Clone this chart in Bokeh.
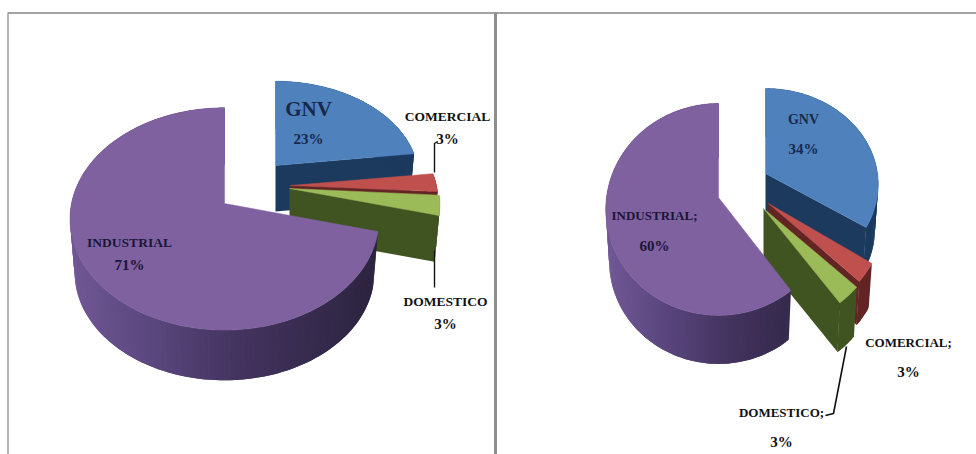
import math
from bokeh.core.properties import value
from bokeh.embed import file_html
from bokeh.models import Range1d
from bokeh.plotting import figure
from bokeh.resources import INLINE

# Share of gas consumption per sector, in percent, for each of the two pies
sectors = ["GNV", "COMERCIAL", "DOMESTICO", "INDUSTRIAL"]
left_values = [23, 3, 3, 71]
right_values = [34, 3, 3, 60]

TOP = {"GNV": "#4f81bd", "COMERCIAL": "#c0504d", "DOMESTICO": "#9bbb59", "INDUSTRIAL": "#7f619f"}
SIDE = {"GNV": "#1b3a5e", "COMERCIAL": "#632523", "DOMESTICO": "#3f5420"}
GRAD = [(0.0, (112, 88, 148)), (0.25, (92, 72, 128)), (0.55, (68, 52, 96)), (1.0, (44, 36, 64))]

# Projected placement of each exploded slice: apex, radii, extrusion depth
LEFT_GEOM = {
    "k": 0.139,
    "GNV": dict(ax=275, ay=165, rx=142, r=96, d=46),
    "COMERCIAL": dict(ax=290, ay=185, rx=146, r=96, d=46),
    "DOMESTICO": dict(ax=289, ay=188, rx=149, r=105, d=47),
    "INDUSTRIAL": dict(ax=224, ay=203, rx=153, r=109, d=54),
}
RIGHT_GEOM = {
    "k": 0.113,
    "GNV": dict(ax=765, ay=173, rx=112, r=94.6, d=46),
    "COMERCIAL": dict(ax=768, ay=203, rx=115, r=105, d=46),
    "DOMESTICO": dict(ax=763, ay=208, rx=118, r=106, d=52),
    "INDUSTRIAL": dict(ax=718, ay=197, rx=112, r=104.6, d=52),
}


def project(g, k, theta, depth=0.0, shrink=1.0):
    w = 1 + k * math.cos(theta)
    x = g["ax"] + shrink * g["rx"] * math.sin(theta) / w
    y = g["ay"] + depth - shrink * g["r"] * math.cos(theta) / w
    return x, y


def shade(f):
    for (f0, c0), (f1, c1) in zip(GRAD, GRAD[1:]):
        if f <= f1:
            t = (f - f0) / (f1 - f0)
            return "#%02x%02x%02x" % tuple(round(a + (b - a) * t) for a, b in zip(c0, c1))
    return "#%02x%02x%02x" % GRAD[-1][1]


def draw_pie(p, values, geom):
    k = geom["k"]
    total = sum(values)
    start = 0.0
    for name, val in zip(sectors, values):
        end = start + val / total * 2 * math.pi
        g = geom[name]
        n = max(8, int(val * 2.2))
        thetas = [start + (end - start) * i / n for i in range(n + 1)]
        shrink = 0.97
        xs, ys, fills = [], [], []

        # cut face along the closing edge of the slice
        ex, ey = project(g, k, end)
        bx, by = project(g, k, end, g["d"], shrink)
        xs.append([g["ax"], ex, bx, g["ax"]])
        ys.append([g["ay"], ey, by, g["ay"] + g["d"]])
        fills.append(SIDE.get(name, shade(1.0)))

        # outer wall: each strip overlaps the next one so no seams show in the gradient
        span = g["rx"] * 2
        step = (end - start) / n
        for a in reversed(thetas[:-1]):
            b = min(end, a + 2 * step)
            pts_top = [project(g, k, t) for t in (a, a + (b - a) / 2, b)]
            pts_low = [project(g, k, t, g["d"], shrink) for t in (b, a + (b - a) / 2, a)]
            xs.append([q[0] for q in pts_top + pts_low])
            ys.append([q[1] for q in pts_top + pts_low])
            if name in SIDE:
                fills.append(SIDE[name])
            else:
                mid = project(g, k, a + step / 2)[0]
                fills.append(shade(min(1.0, max(0.0, (mid - (g["ax"] - g["rx"])) / span))))
        p.patches(xs, ys, fill_color=fills, line_color=None)

        # top face
        top = [project(g, k, t) for t in thetas]
        p.patch([g["ax"]] + [q[0] for q in top], [g["ay"]] + [q[1] for q in top],
                fill_color=TOP[name], line_color=TOP[name], line_width=0.5)
        start = end


p = figure(width=976, height=454, output_backend="svg", toolbar_location=None,
           x_range=Range1d(0, 976), y_range=Range1d(454, 0),
           x_axis_type=None, y_axis_type=None, min_border=0,
           outline_line_color=None, background_fill_color="white",
           border_fill_color="white")
p.grid.visible = False

# Panel frame
frame = "#a3a3a3"
p.line([7.5, 7.5], [13, 454], line_color=frame, line_width=1.6)
p.line([7, 976], [12.5, 12.5], line_color=frame, line_width=2)
p.line([495, 495], [12, 454], line_color="#8e8e8e", line_width=3)

draw_pie(p, left_values, LEFT_GEOM)
draw_pie(p, right_values, RIGHT_GEOM)

# Leader lines
leader = "#111111"
p.line([437, 434, 434], [141, 143, 172], line_color=leader, line_width=1.4)
p.line([434, 434], [250, 287], line_color=leader, line_width=1.4)
p.line([846, 833, 825], [346, 413, 415], line_color=leader, line_width=1.6)


def label(x, y, text, size, color="#111111"):
    p.text([x], [y], text=[text], text_align="center", text_baseline="middle",
           text_color=color, text_font=value("Liberation Serif"),
           text_font_style="bold", text_font_size=f"{size}px")


ink = "#1b1538"
label(308, 108, f"{sectors[0]}", 21, "#17294a")
label(308, 138, f"{left_values[0]}%", 15, "#17294a")
label(447, 116, f"{sectors[1]}", 13.5)
label(447, 138, f"{left_values[1]}%", 15)
label(445, 301, f"{sectors[2]}", 13.5)
label(445, 323, f"{left_values[2]}%", 15)
label(129, 242, f"{sectors[3]}", 13.5, ink)
label(129, 264, f"{left_values[3]}%", 15, ink)

label(803, 119, f"{sectors[0]}", 14, "#17294a")
label(803, 148, f"{right_values[0]}%", 15, "#17294a")
label(908, 342, f"{sectors[1]};", 13)
label(908, 371, f"{right_values[1]}%", 15)
label(781, 412, f"{sectors[2]};", 13)
label(781, 441, f"{right_values[2]}%", 15)
label(654, 215, f"{sectors[3]};", 13, ink)
label(654, 245, f"{right_values[3]}%", 15, ink)

open("out.html", "w").write(file_html(p, INLINE))
